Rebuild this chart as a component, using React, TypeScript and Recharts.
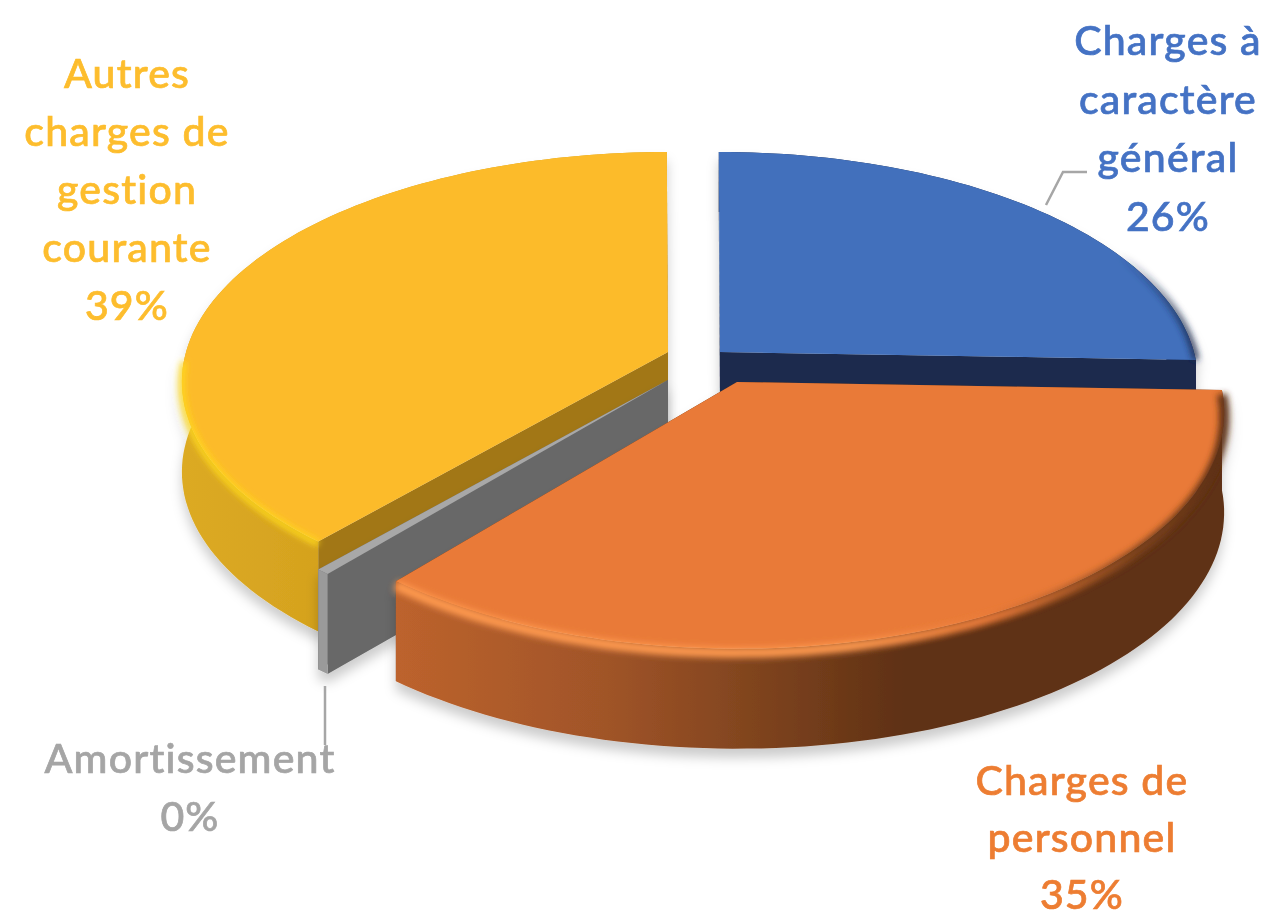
import { PieChart, Pie } from "recharts";

const categories = ["Charges à caractère général", "Autres charges de gestion courante", "Amortissement", "Charges de personnel"];
const shares = [25.6, 38.6, 0.4, 35.4];

const labelLines: Record<string, string[]> = {
  "Charges à caractère général": ["Charges à", "caractère", "général"],
  "Autres charges de gestion courante": ["Autres", "charges de", "gestion", "courante"],
  "Amortissement": ["Amortissement"],
  "Charges de personnel": ["Charges de", "personnel"],
};

const data = categories.map((name, i) => ({ name, value: shares[i] }));

const CX = 694;
const CY = 370;
const R = 200;
const K = 0.13; // perspective strength
const FONT = "Lato, 'Open Sans', sans-serif";

// how each slice is exploded and tilted, relative to the pie centre
type Look = {
  dx: number; dy: number; a: number; b: number; h: number;
  top: string; wall: string; cut: string; text: string;
  bevel?: string; bevelFrom?: number; bevelW?: number; bevelDrop?: number;
  labelDx: number; labelDy: number; lineGap: number; leader?: number[][];
};
const looks: Record<string, Look> = {
  "Charges à caractère général": {
    dx: 26, dy: -18, a: 474, b: 226, h: 60, top: "#4270bc", wall: "#1b2a4e", cut: "#1b2a4e", text: "#4472c4",
    bevel: "url(#bevelBlue)", bevelW: 6, labelDx: 474, labelDy: -315, lineGap: 58.6,
    leader: [[352, -165], [369, -198], [393, -198]],
  },
  "Autres charges de gestion courante": {
    dx: -26, dy: -18, a: 482, b: 226, h: 90, top: "#fcbb2b", wall: "url(#wallYellow)", cut: "#a27716", text: "#fdbd2d",
    bevel: "url(#bevelYellow)", bevelFrom: 182, bevelW: 6, bevelDrop: 2, labelDx: -567, labelDy: -282, lineGap: 58,
  },
  "Amortissement": {
    dx: -26, dy: 10, a: 482, b: 226, h: 100, top: "#a8a8a8", wall: "#9a9a9a", cut: "#686868", text: "#a5a5a5",
    labelDx: -504, labelDy: 403, lineGap: 58, leader: [[-369, 316], [-369, 375]],
  },
  "Charges de personnel": {
    dx: 43, dy: 12, a: 483, b: 232, h: 100, top: "#e97a38", wall: "url(#wallOrange)", cut: "#5e3014", text: "#ed7d31",
    bevel: "url(#bevelOrange)", bevelW: 10, bevelDrop: 4, labelDx: 388, labelDy: 425, lineGap: 57,
  },
};

const project = (look: Look, cx: number, cy: number, angle: number) => {
  const rad = (angle * Math.PI) / 180;
  const x = Math.cos(rad);
  const y = -Math.sin(rad);
  const s = 1 / (1 - K * y);
  return [cx + look.dx + x * s * look.a, cy + look.dy + y * s * look.b];
};

const arc = (look: Look, cx: number, cy: number, from: number, to: number) => {
  const pts: number[][] = [];
  const n = Math.max(2, Math.ceil((to - from) / 1.5));
  for (let i = 0; i <= n; i++) pts.push(project(look, cx, cy, from + ((to - from) * i) / n));
  return pts;
};

const toPath = (pts: number[][]) =>
  pts.map((p, i) => `${i ? "L" : "M"}${p[0].toFixed(1)} ${p[1].toFixed(1)}`).join(" ");

const drop = (pts: number[][], h: number) => pts.map((p) => [p[0], p[1] + h]);

function Slice(props: any) {
  const { cx, cy, startAngle, endAngle, name } = props;
  const look = looks[name];
  if (!look) return null;
  const from = Math.min(startAngle, endAngle);
  const to = Math.max(startAngle, endAngle);
  const apex = [cx + look.dx, cy + look.dy];
  const rim = arc(look, cx, cy, from, to);
  const first = rim[0];
  const last = rim[rim.length - 1];
  const face = (p: number[]) => toPath([apex, p, [p[0], p[1] + look.h], [apex[0], apex[1] + look.h]]) + " Z";
  return (
    <g filter="url(#softShadow)">
      <path d={face(first)} fill={look.cut} />
      <path d={face(last)} fill={look.cut} />
      <path d={toPath([...rim, ...drop(rim, look.h).reverse()]) + " Z"} fill={look.wall} />
      <path d={toPath([apex, ...rim]) + " Z"} fill={look.top} />
      {look.bevel && (
        <path
          d={toPath(drop(arc(look, cx, cy, look.bevelFrom ?? from, to), look.bevelDrop ?? 0))}
          fill="none"
          stroke={look.bevel}
          strokeWidth={look.bevelW}
          filter="url(#bevelBlur)"
        />
      )}
    </g>
  );
}

function SliceLabel(props: any) {
  const { cx, cy, name, percent } = props;
  const look = looks[name];
  if (!look) return null;
  const lines = [...labelLines[name], `${Math.round(percent * 100)}%`];
  return (
    <g>
      {look.leader && (
        <polyline
          points={look.leader.map((p) => `${cx + p[0]},${cy + p[1]}`).join(" ")}
          fill="none"
          stroke="#a6a6a6"
          strokeWidth={2.5}
        />
      )}
      <text textAnchor="middle" fontFamily={FONT} fontSize={41} fontWeight={500} fill={look.text} stroke={look.text} strokeWidth={0.7} letterSpacing={1.2} filter="url(#textBlur)">
        {lines.map((line, i) => (
          <tspan key={i} x={cx + look.labelDx} y={cy + look.labelDy + i * look.lineGap}>{line}</tspan>
        ))}
      </text>
    </g>
  );
}

export default function App() {
  return (
    <div style={{ position: "absolute", left: 0, top: 0, width: 1269, height: 918, background: "#fff" }}>
      <PieChart width={1269} height={918} margin={{ top: 0, right: 0, bottom: 0, left: 0 }}>
        <defs>
          <linearGradient id="wallOrange" gradientUnits="userSpaceOnUse" x1={395} y1={0} x2={1000} y2={0}>
            <stop offset="0" stopColor="#bd632d" />
            <stop offset="0.35" stopColor="#a05428" />
            <stop offset="0.62" stopColor="#7c421d" />
            <stop offset="0.85" stopColor="#5e3014" />
            <stop offset="1" stopColor="#5e3014" />
          </linearGradient>
          <linearGradient id="wallYellow" gradientUnits="userSpaceOnUse" x1={182} y1={0} x2={318} y2={0}>
            <stop offset="0" stopColor="#dcaa24" />
            <stop offset="1" stopColor="#d5a21e" />
          </linearGradient>
          <linearGradient id="bevelOrange" gradientUnits="userSpaceOnUse" x1={395} y1={0} x2={1222} y2={0}>
            <stop offset="0" stopColor="#ff9a50" />
            <stop offset="0.55" stopColor="#ff9a50" />
            <stop offset="0.72" stopColor="#e97a38" />
            <stop offset="0.9" stopColor="#7c421d" />
            <stop offset="1" stopColor="#5e3014" />
          </linearGradient>
          <linearGradient id="bevelYellow" gradientUnits="userSpaceOnUse" x1={182} y1={0} x2={318} y2={0}>
            <stop offset="0" stopColor="#ffd91c" />
            <stop offset="1" stopColor="#ffd91c" />
          </linearGradient>
          <linearGradient id="bevelBlue" gradientUnits="userSpaceOnUse" x1={1120} y1={0} x2={1197} y2={0}>
            <stop offset="0" stopColor="#1b2a4e" stopOpacity={0} />
            <stop offset="1" stopColor="#1b2a4e" />
          </linearGradient>
          <filter id="bevelBlur" x="-10%" y="-10%" width="120%" height="120%">
            <feGaussianBlur stdDeviation={3} />
          </filter>
          <filter id="textBlur" x="-5%" y="-5%" width="110%" height="110%">
            <feGaussianBlur stdDeviation={0.6} />
          </filter>
          <filter id="softShadow" x="-10%" y="-10%" width="120%" height="125%">
            <feDropShadow dx={0} dy={9} stdDeviation={6} floodColor="#000" floodOpacity={0.2} />
          </filter>
        </defs>
        <Pie
          data={data}
          dataKey="value"
          nameKey="name"
          cx={CX}
          cy={CY}
          outerRadius={R}
          startAngle={-2}
          endAngle={358}
          stroke="none"
          isAnimationActive={false}
          shape={Slice}
          activeShape={Slice}
          inactiveShape={Slice}
          label={SliceLabel}
          labelLine={false}
        />
      </PieChart>
    </div>
  );
}
